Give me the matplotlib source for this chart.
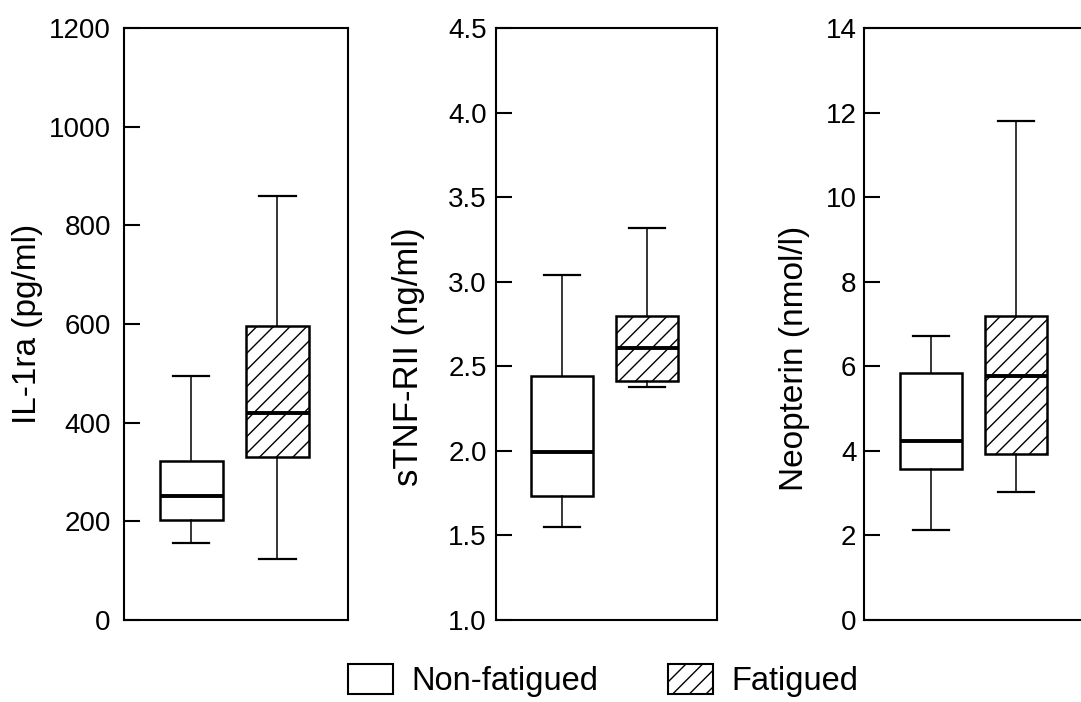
import matplotlib
matplotlib.use("Agg")
import matplotlib.pyplot as plt
from matplotlib.patches import Patch

plt.rcParams['font.family'] = ['Liberation Sans', 'DejaVu Sans']
plt.rcParams['hatch.linewidth'] = 1.0

# ---- data: (whisker low, Q1, median, Q3, whisker high) ----
groups = ["Non-fatigued", "Fatigued"]
il1ra_nf = [156, 202, 252, 322, 495]
il1ra_f = [123, 331, 419, 595, 860]
stnf_nf = [1.55, 1.73, 1.99, 2.44, 3.04]
stnf_f = [2.38, 2.41, 2.61, 2.80, 3.32]
neo_nf = [2.13, 3.57, 4.22, 5.83, 6.72]
neo_f = [3.02, 3.93, 5.78, 7.19, 11.80]

ylabels = ["IL-1ra (pg/ml)", "sTNF-RII (ng/ml)", "Neopterin (nmol/l)"]
il1ra_ticks = [0, 200, 400, 600, 800, 1000, 1200]
stnf_ticks = [1.0, 1.5, 2.0, 2.5, 3.0, 3.5, 4.0, 4.5]
neo_ticks = [0, 2, 4, 6, 8, 10, 12, 14]


def to_stats(v, label):
    return dict(whislo=v[0], q1=v[1], med=v[2], q3=v[3], whishi=v[4],
                fliers=[], label=label)


fig = plt.figure(figsize=(10.81, 7.02), dpi=100)
bottom, height = 0.117, 0.843
axes_pos = [(0.1147, 0.2072), (0.4588, 0.2044), (0.7993, 0.2054)]
panels = [
    (il1ra_nf, il1ra_f, il1ra_ticks, "%d", ylabels[0], (-0.362, 0.50), 9.5, 24),
    (stnf_nf, stnf_f, stnf_ticks, "%.1f", ylabels[1], (-0.321, 0.445), 6.5, 25),
    (neo_nf, neo_f, neo_ticks, "%d", ylabels[2], (-0.243, 0.442), 5.5, 24),
]

for (left, width), (nf, f, ticks, fmt, ylab, lblpos, pad, lfs) in zip(axes_pos, panels):
    ax = fig.add_axes([left, bottom, width, height])
    stats = [to_stats(nf, groups[0]), to_stats(f, groups[1])]
    bp = ax.bxp(stats, positions=[1, 2], widths=0.727, patch_artist=True,
                showfliers=False, capwidths=0.42,
                boxprops=dict(facecolor='white', edgecolor='black', linewidth=1.8),
                medianprops=dict(color='black', linewidth=2.8),
                whiskerprops=dict(color='black', linewidth=1.1),
                capprops=dict(color='black', linewidth=1.6))
    bp['boxes'][1].set_hatch('//')
    ax.set_xlim(0.221, 2.818)
    ax.set_ylim(ticks[0], ticks[-1])
    ax.set_yticks(ticks)
    ax.set_yticklabels([fmt % t for t in ticks])
    ax.set_xticks([])
    ax.tick_params(axis='y', direction='in', length=11.5, width=1.5,
                   labelsize=20, pad=pad)
    for s in ax.spines.values():
        s.set_linewidth(1.5)
    ax.set_ylabel(ylab, fontsize=lfs)
    ax.yaxis.set_label_coords(*lblpos)

handles = [Patch(facecolor='white', edgecolor='black', linewidth=1.5),
           Patch(facecolor='white', edgecolor='black', linewidth=1.5, hatch='//')]
fig.legend(handles, groups, loc='center', bbox_to_anchor=(0.558, 0.031),
           ncol=2, frameon=False, fontsize=23.5, handlelength=1.38,
           handleheight=1.04, handletextpad=0.58, columnspacing=2.12)

fig.savefig("out.png", dpi=100)
